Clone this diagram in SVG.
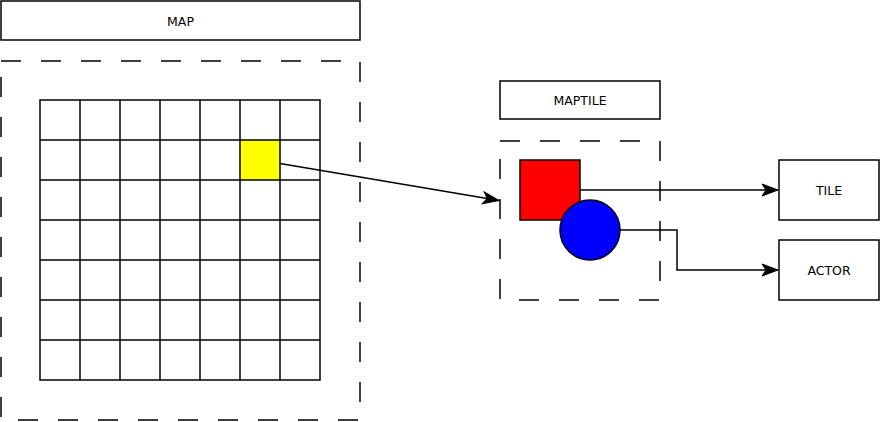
<svg xmlns="http://www.w3.org/2000/svg" width="882" height="422" viewBox="0 0 882 422">
<style>
.box{fill:#fff;stroke:#000;stroke-width:1.5}
.dash{fill:none;stroke:#000;stroke-width:1.5;stroke-dasharray:20 20}
.grid{fill:none;stroke:#000;stroke-width:1.5}
.lbl{font-family:"DejaVu Sans",sans-serif;font-size:12.5px;text-anchor:middle;dominant-baseline:central;fill:#000}
.conn{fill:none;stroke:#000;stroke-width:1.5}
</style>
<defs>
<marker id="arr" viewBox="0 0 20 20" refX="18" refY="10" markerWidth="20" markerHeight="20" markerUnits="userSpaceOnUse" orient="auto">
<path d="M2,4 L18,10 L2,16 L6,10 Z" fill="#000" stroke="#000" stroke-width="1"/>
</marker>
</defs>
<g id="map-label">
<rect class="box" x="1" y="1" width="359" height="39"/>
<text class="lbl" x="180.5" y="21">MAP</text>
</g>
<g id="map">
<rect class="dash" x="1" y="61" width="359" height="359"/>
<rect x="240" y="140" width="40" height="40" fill="#ffff00"/>
<path class="grid" d="M40,100H320V380H40Z M80,100V380 M120,100V380 M160,100V380 M200,100V380 M240,100V380 M280,100V380 M40,140H320 M40,180H320 M40,220H320 M40,260H320 M40,300H320 M40,340H320"/>
</g>
<g id="maptile-label">
<rect class="box" x="500" y="81" width="160" height="38"/>
<text class="lbl" x="580" y="100">MAPTILE</text>
</g>
<g id="maptile">
<rect class="dash" x="500" y="141" width="160" height="159"/>
</g>
<g id="red-square">
<rect x="520" y="160" width="60" height="60" fill="#ff0000" stroke="#000" stroke-width="1.5"/>
</g>
<g id="blue-circle">
<circle cx="590" cy="230" r="30" fill="#0000ff" stroke="#000" stroke-width="1.5"/>
</g>
<g id="tile">
<rect class="box" x="779" y="160" width="100" height="60"/>
<text class="lbl" x="829" y="190">TILE</text>
</g>
<g id="actor">
<rect class="box" x="779" y="240" width="100" height="60"/>
<text class="lbl" x="829" y="270">ACTOR</text>
</g>
<g id="connectors">
<path class="conn" d="M280,163.5 L499,200.5" marker-end="url(#arr)"/>
<path class="conn" d="M580,190 H778" marker-end="url(#arr)"/>
<path class="conn" d="M620,230 H677 V270 H778" marker-end="url(#arr)"/>
</g>
</svg>
